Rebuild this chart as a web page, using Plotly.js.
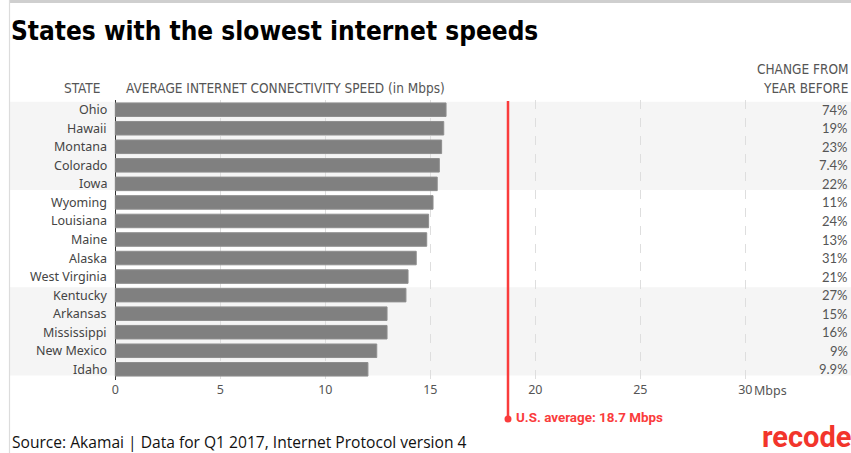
<!DOCTYPE html>
<html>
<head>
<meta charset="utf-8">
<script src="https://cdn.plot.ly/plotly-3.0.1.min.js"></script>
<style>
  html, body { margin: 0; padding: 0; background: #fff; }
  #chart { width: 851px; height: 453px; }
</style>
</head>
<body>
<div id="chart"></div>
<script>
const states = ['Ohio', 'Hawaii', 'Montana', 'Colorado', 'Iowa', 'Wyoming', 'Louisiana', 'Maine', 'Alaska', 'West Virginia', 'Kentucky', 'Arkansas', 'Mississippi', 'New Mexico', 'Idaho'];
const speeds = [15.75, 15.64, 15.54, 15.43, 15.33, 15.13, 14.92, 14.83, 14.33, 13.94, 13.84, 12.94, 12.94, 12.45, 12.03];
const changes = ['74%', '19%', '23%', '7.4%', '22%', '11%', '24%', '13%', '31%', '21%', '27%', '15%', '16%', '9%', '9.9%'];
const usAverage = 18.7;
const xTicks = [0, 5, 10, 15, 20, 25, 30];
const xTickLabels = ['0', '5', '10', '15', '20', '25', '30'];
const bandGroups = [[0, 4], [10, 14]];

const RED = '#fa3c3c';
const labelFont = { family: 'Noto Sans, sans-serif', size: 12.5, color: '#444' };
const headFont = { family: 'Liberation Sans Narrow, DejaVu Sans Condensed, sans-serif', size: 13.5, color: '#555' };

const trace = {
  type: 'bar',
  orientation: 'h',
  y: states,
  x: speeds,
  width: 0.73,
  marker: { color: '#808080', line: { color: '#8e8e8e', width: 1 } },
  hoverinfo: 'skip'
};

const shapes = [];
bandGroups.forEach(g => {
  shapes.push({
    type: 'rect', layer: 'below', xref: 'paper', yref: 'y',
    x0: 0, x1: 1, y0: g[0] - 0.43, y1: g[1] + 0.33,
    fillcolor: '#f5f5f5', line: { width: 0 }
  });
});
shapes.push({ type: 'line', xref: 'paper', yref: 'paper', x0: -0.0006, x1: 1, y0: 1.352, y1: 1.352, line: { color: '#cfcfcf', width: 3 } });
shapes.push({ type: 'line', xref: 'paper', yref: 'paper', x0: -0.0006, x1: -0.0006, y0: 1.357, y1: -0.27, line: { color: '#dcdcdc', width: 1.2 } });
shapes.push({ type: 'line', xref: 'x', yref: 'paper', x0: usAverage, x1: usAverage, y0: 0.996, y1: -0.139, line: { color: RED, width: 2.5 } });
shapes.push({ type: 'circle', xref: 'x', yref: 'paper', xsizemode: 'pixel', ysizemode: 'pixel', xanchor: usAverage, yanchor: -0.139, x0: -3.5, x1: 3.5, y0: -3.5, y1: 3.5, fillcolor: RED, line: { width: 0 } });

const annotations = [];
states.forEach((s, i) => {
  annotations.push({ x: -0.3, y: s, xref: 'x', yref: 'y', text: s, showarrow: false, xanchor: 'right', yanchor: 'middle', font: labelFont });
  annotations.push({ x: 1, y: s, xref: 'paper', yref: 'y', text: changes[i], showarrow: false, xanchor: 'right', yanchor: 'middle', xshift: -1, font: { family: 'Lato, sans-serif', size: 13, color: '#555' } });
});
annotations.push({ x: 30, y: -10 / 280, xref: 'x', yref: 'paper', text: 'Mbps', showarrow: false, xanchor: 'left', yanchor: 'middle', xshift: 7, font: { family: 'Noto Sans, sans-serif', size: 12.5, color: '#555' } });
annotations.push({ x: usAverage, y: -0.139, xref: 'x', yref: 'paper', text: '<b>U.S. average: ' + usAverage + ' Mbps</b>', showarrow: false, xanchor: 'left', yanchor: 'middle', xshift: 6, yshift: 1, font: { family: 'Roboto, sans-serif', size: 13.4, color: RED } });
annotations.push({ x: (102 - 10) / 841, y: 1 + 12 / 280, xref: 'paper', yref: 'paper', text: 'STATE', showarrow: false, xanchor: 'right', yanchor: 'middle', font: headFont });
annotations.push({ x: (124 - 10) / 841, y: 1 + 12 / 280, xref: 'paper', yref: 'paper', text: 'AVERAGE INTERNET CONNECTIVITY SPEED (in Mbps)', showarrow: false, xanchor: 'left', yanchor: 'middle', font: headFont });
annotations.push({ x: 1, y: 1 + 31 / 280, xref: 'paper', yref: 'paper', text: 'CHANGE FROM', showarrow: false, xanchor: 'right', yanchor: 'middle', xshift: -1, font: headFont });
annotations.push({ x: 1, y: 1 + 12 / 280, xref: 'paper', yref: 'paper', text: 'YEAR BEFORE', showarrow: false, xanchor: 'right', yanchor: 'middle', xshift: -1, font: headFont });
annotations.push({ x: 0, y: 1 - (442 - 100) / 280, xref: 'paper', yref: 'paper', text: 'Source: Akamai | Data for Q1 2017, Internet Protocol version 4', showarrow: false, xanchor: 'left', yanchor: 'middle', font: { family: 'Open Sans, sans-serif', size: 15.6, color: '#111' } });
annotations.push({ x: 1, y: 1 - (453 - 100) / 280, xref: 'paper', yref: 'paper', text: '<b>recode</b>', showarrow: false, xanchor: 'right', yanchor: 'bottom', xshift: 2, yshift: -3, font: { family: 'Roboto, sans-serif', size: 29, color: '#f2352b' } });

const layout = {
  width: 851, height: 453,
  margin: { l: 10, r: 0, t: 100, b: 73, pad: 0 },
  paper_bgcolor: '#fff', plot_bgcolor: 'rgba(0,0,0,0)',
  showlegend: false,
  bargap: 0,
  title: {
    text: '<b>States with the slowest internet speeds</b>',
    x: 11 / 851, xanchor: 'left', xref: 'container',
    y: 1 - 31 / 453, yanchor: 'middle', yref: 'container',
    font: { family: 'Liberation Sans Narrow, DejaVu Sans Condensed, sans-serif', size: 26, color: '#000' }
  },
  xaxis: {
    range: [-105.3 / 21, (851 - 115.3) / 21],
    tickvals: xTicks, ticktext: xTickLabels,
    showgrid: true, gridcolor: '#dedede', griddash: 'dash', gridwidth: 1,
    zeroline: true, zerolinecolor: '#333', zerolinewidth: 1.2,
    showline: false, ticks: '',
    tickfont: { family: 'Noto Sans, sans-serif', size: 12.5, color: '#555' },
    fixedrange: true
  },
  yaxis: {
    type: 'category', categoryarray: states, categoryorder: 'array',
    range: [14 + 10.7 / 18.54, -9.7 / 18.54],
    showticklabels: false, showgrid: false, zeroline: false, ticks: '',
    fixedrange: true
  },
  shapes: shapes,
  annotations: annotations
};

Plotly.newPlot('chart', [trace], layout, { displayModeBar: false, staticPlot: true });
</script>
</body>
</html>
